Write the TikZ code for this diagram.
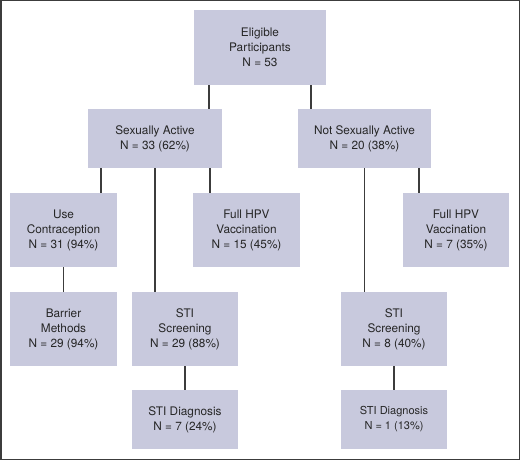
\documentclass[tikz,border=0pt]{standalone}
\usepackage{fontspec}
\setmainfont{TeX Gyre Heros}
\usepackage{xcolor}
\usepackage{tikz}
\definecolor{boxfill}{HTML}{C8C9DD}
\definecolor{linegray}{HTML}{3C3C3C}
\definecolor{textgray}{HTML}{262626}
\tikzset{
  flowbox/.style={fill=boxfill, align=center, text=textgray, inner sep=0pt,
    font=\fontsize{11.8}{15}\selectfont},
  link/.style={draw=linegray, line width=1.4pt}
}

\begin{document}
\begin{tikzpicture}[x=1pt, y=-1pt]
\useasboundingbox (0,0) rectangle (520,460);
\draw[linegray, line width=1.5pt] (0.75,0.75) rectangle (519.25,459.25);

\node[flowbox, minimum width=132pt, minimum height=75pt] (elig) at (260,47.5) {Eligible\\Participants\\N = 53};
\node[flowbox, minimum width=134pt, minimum height=59pt] (active) at (155,138.5) {Sexually Active\\N = 33 (62\%)};
\node[flowbox, minimum width=133pt, minimum height=59pt] (notactive) at (364.5,138.5) {Not Sexually Active\\N = 20 (38\%)};

\node[flowbox, minimum width=107pt, minimum height=74pt] (contra) at (63.5,230) {Use\\Contraception\\N = 31 (94\%)};
\node[flowbox, minimum width=107pt, minimum height=74pt] (hpvA) at (246.5,230) {Full HPV\\Vaccination\\N = 15 (45\%)};
\node[flowbox, minimum width=106pt, minimum height=74pt] (hpvB) at (456,230) {Full HPV\\Vaccination\\N = 7 (35\%)};

\node[flowbox, minimum width=107pt, minimum height=74pt] (barrier) at (63.5,329) {Barrier\\Methods\\N = 29 (94\%)};
\node[flowbox, minimum width=106pt, minimum height=74pt] (stiA) at (185,329) {STI\\Screening\\N = 29 (88\%)};
\node[flowbox, minimum width=106pt, minimum height=74pt] (stiB) at (394,329) {STI\\Screening\\N = 8 (40\%)};

\node[flowbox, minimum width=106pt, minimum height=59pt] (diagA) at (185,419.5) {STI Diagnosis\\N = 7 (24\%)};
\node[flowbox, minimum width=106pt, minimum height=59pt, font=\fontsize{11}{15}\selectfont] (diagB) at (394,419.5) {STI Diagnosis\\N = 1 (13\%)};

\draw[link] (elig.south -| 209,0) -- (active.north -| 209,0);
\draw[link] (elig.south -| 311,0) -- (notactive.north -| 311,0);
\draw[link] (active.south -| 101,0) -- (contra.north -| 101,0);
\draw[link] (active.south) -- (stiA.north -| active.south);
\draw[link] (active.south -| 210,0) -- (hpvA.north -| 210,0);
\draw[link] (notactive.south) -- (stiB.north -| notactive.south);
\draw[link] (notactive.south -| 419,0) -- (hpvB.north -| 419,0);
\draw[link] (contra) -- (barrier);
\draw[link] (stiA) -- (diagA);
\draw[link] (stiB) -- (diagB);
\end{tikzpicture}
\end{document}
